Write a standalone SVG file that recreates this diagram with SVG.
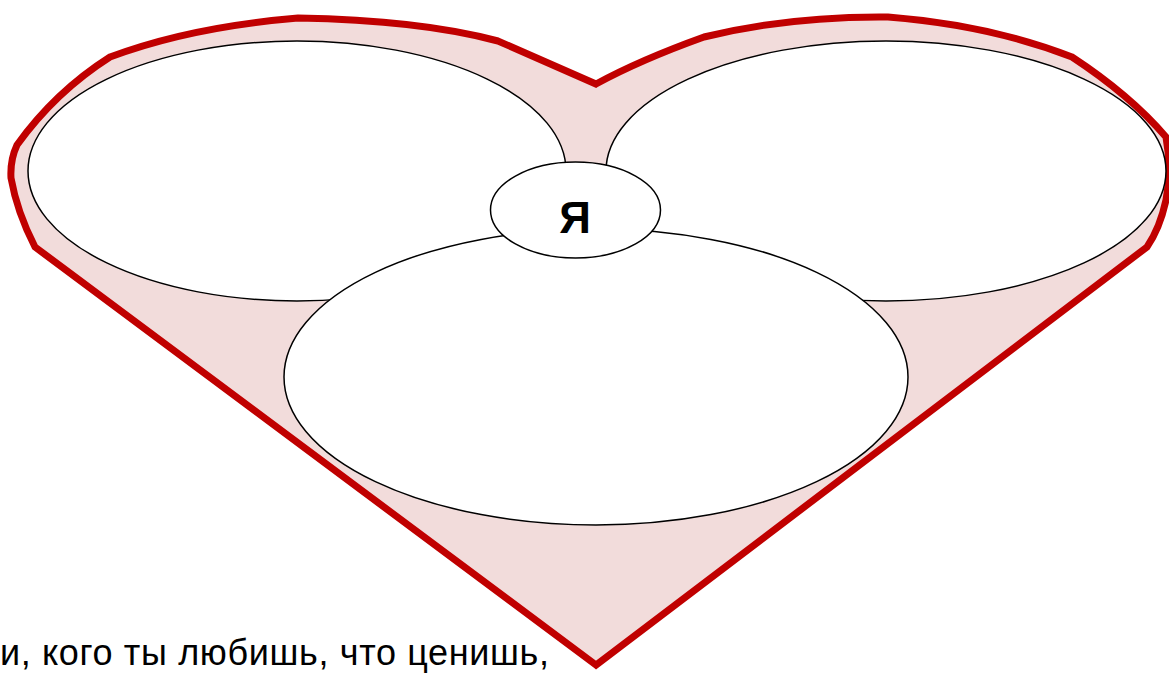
<svg xmlns="http://www.w3.org/2000/svg" width="1169" height="673" viewBox="0 0 1169 673">
<style>
.oval{fill:#fff;stroke:#000;stroke-width:1.5}
.heart{fill:#F2DCDB;stroke:#C00000;stroke-width:7;stroke-linejoin:miter}
.lbl{font-family:"Liberation Sans",Arial,sans-serif;font-weight:bold;font-size:44px;fill:#000}
.cap{font-family:"Liberation Sans",Arial,sans-serif;font-size:36px;fill:#000}
</style>
<rect width="1169" height="673" fill="#fff"/>
<g id="heart">
<path class="heart" d="M596,665 L35,247 Q17,212 11,178 Q10,160 17,145 Q55,92 110,57 Q190,27 298,18 Q420,20 498,41 L596,84 Q640,60 704,37 Q790,16 888,17 Q990,25 1072,57 Q1130,95 1166,137 Q1172,170 1166,200 Q1160,228 1147,247 Z"/>
</g>
<g id="left"><ellipse class="oval" cx="297" cy="171" rx="269" ry="130"/></g>
<g id="right"><ellipse class="oval" cx="886" cy="171" rx="280" ry="130"/></g>
<g id="bottom"><ellipse class="oval" cx="596" cy="377" rx="312" ry="148"/></g>
<g id="me"><ellipse class="oval" cx="575.5" cy="210" rx="85" ry="48"/>
<text class="lbl" x="575" y="233" text-anchor="middle">Я</text></g>
<g id="connectors"></g>
<g id="caption"><text class="cap" x="0" y="665" textLength="549" lengthAdjust="spacing">и, кого ты любишь, что ценишь,</text></g>
</svg>
